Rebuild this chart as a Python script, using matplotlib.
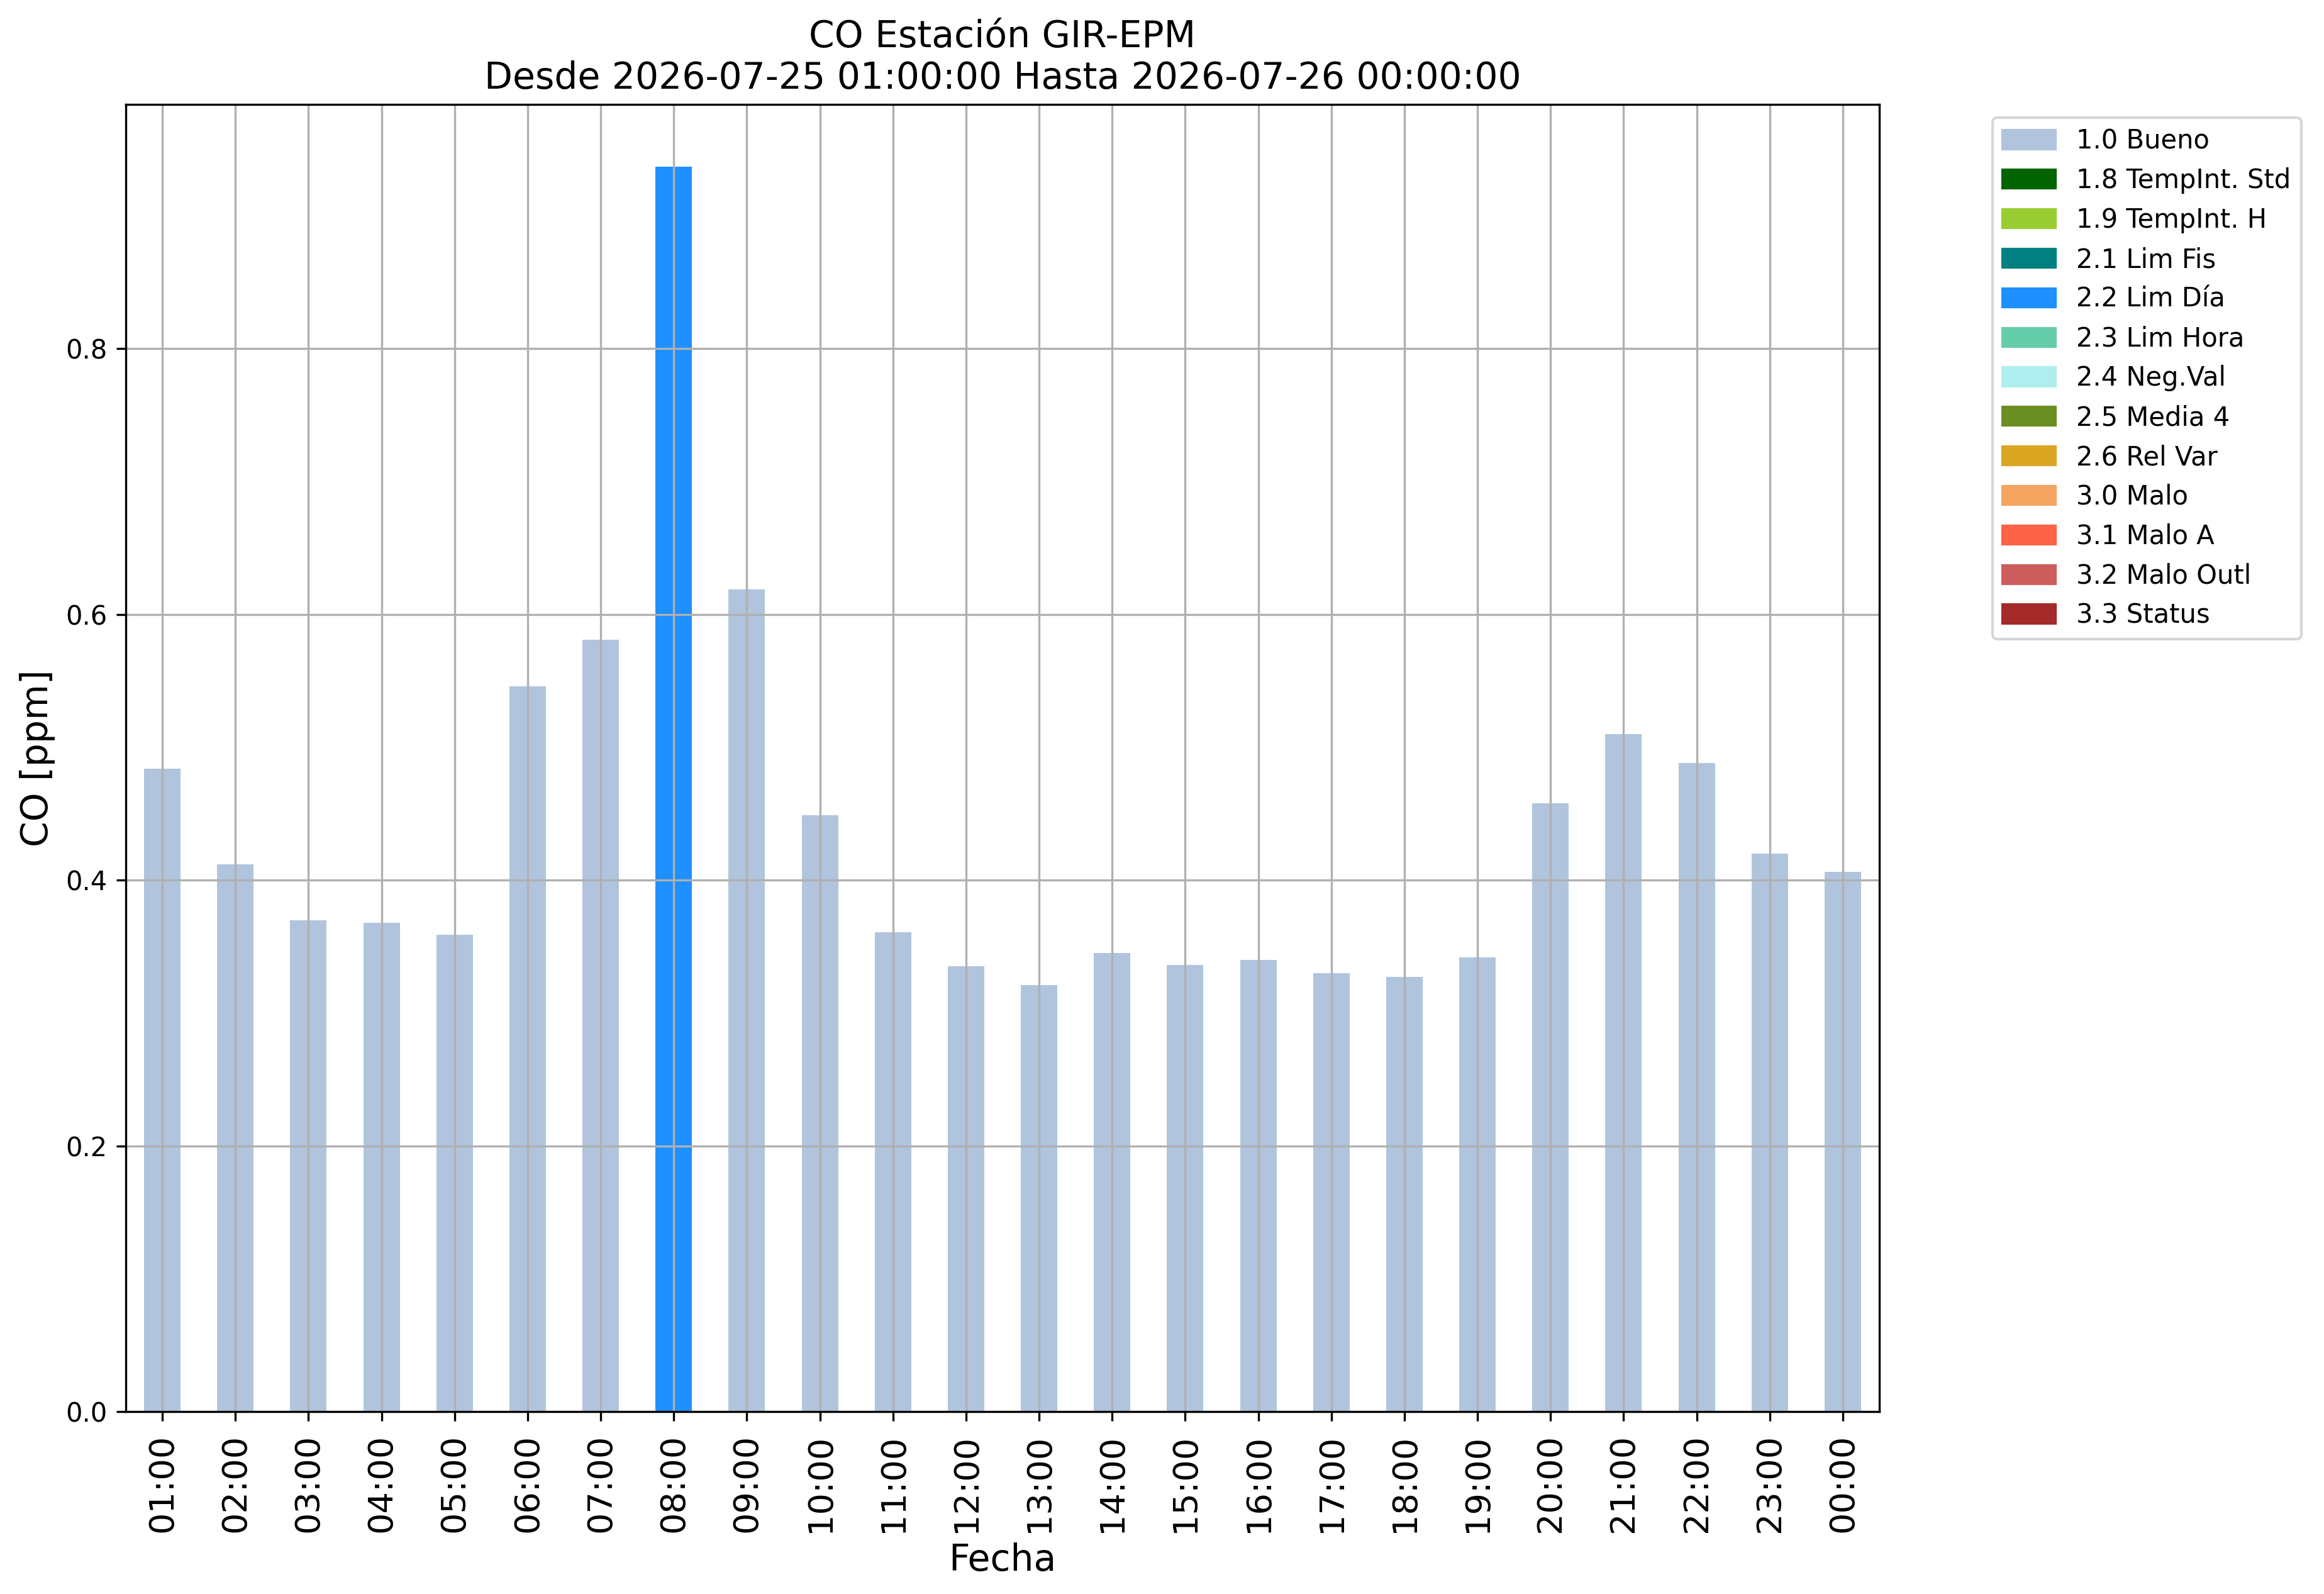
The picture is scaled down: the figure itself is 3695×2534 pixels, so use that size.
import numpy as np
import matplotlib
matplotlib.use('Agg')
import matplotlib.pyplot as plt
from matplotlib.patches import Patch

# horas del dia y concentracion de CO
horas = ["01:00", "02:00", "03:00", "04:00", "05:00", "06:00", "07:00", "08:00",
         "09:00", "10:00", "11:00", "12:00", "13:00", "14:00", "15:00", "16:00",
         "17:00", "18:00", "19:00", "20:00", "21:00", "22:00", "23:00", "00:00"]
co_ppm = [0.484, 0.412, 0.370, 0.368, 0.359, 0.546, 0.581, 0.937,
          0.619, 0.449, 0.361, 0.335, 0.321, 0.345, 0.336, 0.340,
          0.330, 0.327, 0.342, 0.458, 0.510, 0.488, 0.420, 0.406]
# bandera de calidad de cada dato
banderas = ["1.0"] * 7 + ["2.2"] + ["1.0"] * 16

# etiquetas y colores de las banderas
flag_codes = ["1.0", "1.8", "1.9", "2.1", "2.2", "2.3", "2.4",
              "2.5", "2.6", "3.0", "3.1", "3.2", "3.3"]
flag_names = ["1.0 Bueno", "1.8 TempInt. Std", "1.9 TempInt. H", "2.1 Lim Fis",
              "2.2 Lim Día", "2.3 Lim Hora", "2.4 Neg.Val", "2.5 Media 4",
              "2.6 Rel Var", "3.0 Malo", "3.1 Malo A", "3.2 Malo Outl", "3.3 Status"]
flag_colors = ["lightsteelblue", "darkgreen", "yellowgreen", "teal", "dodgerblue",
               "mediumaquamarine", "paleturquoise", "olivedrab", "goldenrod",
               "sandybrown", "tomato", "indianred", "brown"]

color_dict = dict(zip(flag_codes, flag_colors))

fig = plt.figure(figsize=(3695 / 300, 2534 / 300), dpi=300)
ax = fig.add_axes([200 / 3695, 1 - 2244 / 2534, 2788 / 3695, 2078 / 2534])

x = np.arange(len(horas))
colores = [color_dict[b] for b in banderas]
ax.bar(x, co_ppm, width=0.5, color=colores)

ax.set_xlim(-0.5, len(horas) - 0.5)
ax.set_xticks(x)
ax.set_xticklabels(horas, rotation=90, fontsize=13)
ax.tick_params(axis='x', pad=5)
ax.tick_params(axis='y', labelsize=10)
ax.grid(True)

ax.set_title('CO Estación GIR-EPM\nDesde 2026-07-25 01:00:00 Hasta 2026-07-26 00:00:00', fontsize=14)
ax.set_xlabel('Fecha', fontsize=14)
ax.set_ylabel('CO [ppm]', fontsize=14)

handles = [Patch(color=c, label=n) for c, n in zip(flag_colors, flag_names)]
ax.legend(handles=handles, bbox_to_anchor=(1.057, 1), loc='upper left', fontsize=10)

fig.savefig('out.png', dpi=300)
